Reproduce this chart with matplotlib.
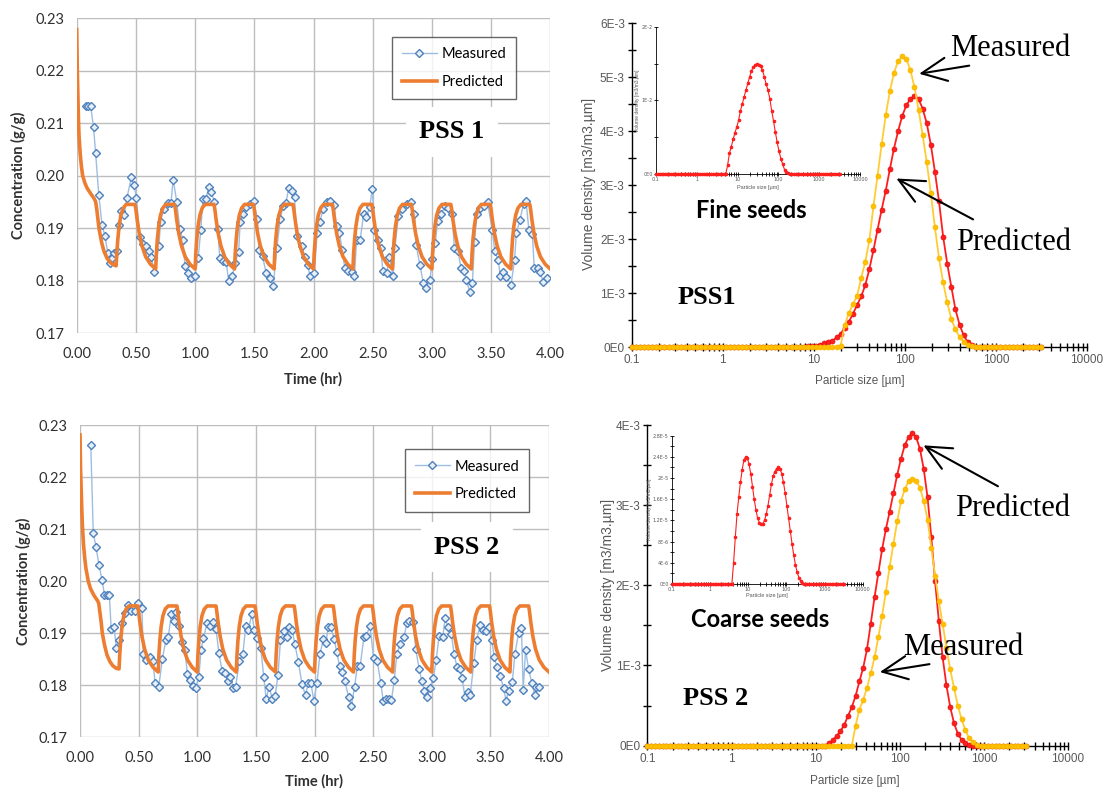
import matplotlib
matplotlib.use("Agg")
import matplotlib.pyplot as plt
from matplotlib.lines import Line2D
from matplotlib.patches import FancyArrowPatch
from matplotlib.ticker import FixedLocator, FixedFormatter, NullFormatter

# ---------------- concentration data (g/g vs hr) ----------------
time_ticks = [0.0, 0.5, 1.0, 1.5, 2.0, 2.5, 3.0, 3.5, 4.0]
conc_ticks = [0.17, 0.18, 0.19, 0.20, 0.21, 0.22, 0.23]

pred_time = [
    0.000, 0.005, 0.010, 0.015, 0.020, 0.030, 0.040, 0.050, 0.070, 0.090, 0.120,
    0.150, 0.160, 0.170, 0.180, 0.190, 0.210, 0.230, 0.255, 0.280, 0.310,
    0.333, 0.339, 0.347, 0.358, 0.373, 0.393, 0.418, 0.493, 0.500, 0.511, 0.528, 0.551, 0.583, 0.623,
    0.667, 0.673, 0.681, 0.692, 0.707, 0.727, 0.752, 0.827, 0.834, 0.845, 0.862, 0.885, 0.917, 0.957,
    1.000, 1.006, 1.014, 1.025, 1.040, 1.060, 1.085, 1.160, 1.167, 1.178, 1.195, 1.218, 1.250, 1.290,
    1.333, 1.339, 1.347, 1.358, 1.373, 1.393, 1.418, 1.493, 1.500, 1.511, 1.528, 1.551, 1.583, 1.623,
    1.667, 1.673, 1.681, 1.692, 1.707, 1.727, 1.752, 1.827, 1.834, 1.845, 1.862, 1.885, 1.917, 1.957,
    2.000, 2.006, 2.014, 2.025, 2.040, 2.060, 2.085, 2.160, 2.167, 2.178, 2.195, 2.218, 2.250, 2.290,
    2.333, 2.339, 2.347, 2.358, 2.373, 2.393, 2.418, 2.493, 2.500, 2.511, 2.528, 2.551, 2.583, 2.623,
    2.667, 2.673, 2.681, 2.692, 2.707, 2.727, 2.752, 2.827, 2.834, 2.845, 2.862, 2.885, 2.917, 2.957,
    3.000, 3.006, 3.014, 3.025, 3.040, 3.060, 3.085, 3.160, 3.167, 3.178, 3.195, 3.218, 3.250, 3.290,
    3.333, 3.339, 3.347, 3.358, 3.373, 3.393, 3.418, 3.493, 3.500, 3.511, 3.528, 3.551, 3.583, 3.623,
    3.667, 3.673, 3.681, 3.692, 3.707, 3.727, 3.752, 3.827, 3.834, 3.845, 3.862, 3.885, 3.917, 3.957,
    4.000,
]

pss1_pred = [
    0.2278, 0.2200, 0.2150, 0.2105, 0.2075, 0.2040, 0.2017, 0.2000, 0.1985, 0.1975, 0.1965,
    0.1955, 0.1950, 0.1935, 0.1915, 0.1897, 0.1873, 0.1856, 0.1843, 0.1835, 0.1830,
    0.1828, 0.1852, 0.1878, 0.1903, 0.1924, 0.1938, 0.1945, 0.1945, 0.1935, 0.1915, 0.1890, 0.1866, 0.1845, 0.1831,
    0.1822, 0.1852, 0.1878, 0.1903, 0.1924, 0.1938, 0.1945, 0.1945, 0.1935, 0.1915, 0.1890, 0.1866, 0.1845, 0.1831,
    0.1822, 0.1852, 0.1878, 0.1903, 0.1924, 0.1938, 0.1945, 0.1945, 0.1935, 0.1915, 0.1890, 0.1866, 0.1845, 0.1831,
    0.1822, 0.1852, 0.1878, 0.1903, 0.1924, 0.1938, 0.1945, 0.1945, 0.1935, 0.1915, 0.1890, 0.1866, 0.1845, 0.1831,
    0.1822, 0.1852, 0.1878, 0.1903, 0.1924, 0.1938, 0.1945, 0.1945, 0.1935, 0.1915, 0.1890, 0.1866, 0.1845, 0.1831,
    0.1822, 0.1852, 0.1878, 0.1903, 0.1924, 0.1938, 0.1945, 0.1945, 0.1935, 0.1915, 0.1890, 0.1866, 0.1845, 0.1831,
    0.1822, 0.1852, 0.1878, 0.1903, 0.1924, 0.1938, 0.1945, 0.1945, 0.1935, 0.1915, 0.1890, 0.1866, 0.1845, 0.1831,
    0.1822, 0.1852, 0.1878, 0.1903, 0.1924, 0.1938, 0.1945, 0.1945, 0.1935, 0.1915, 0.1890, 0.1866, 0.1845, 0.1831,
    0.1822, 0.1852, 0.1878, 0.1903, 0.1924, 0.1938, 0.1945, 0.1945, 0.1935, 0.1915, 0.1890, 0.1866, 0.1845, 0.1831,
    0.1822, 0.1852, 0.1878, 0.1903, 0.1924, 0.1938, 0.1945, 0.1945, 0.1935, 0.1915, 0.1890, 0.1866, 0.1845, 0.1831,
    0.1822, 0.1852, 0.1878, 0.1903, 0.1924, 0.1938, 0.1945, 0.1945, 0.1935, 0.1915, 0.1890, 0.1866, 0.1845, 0.1831,
    0.1822,
]

pss2_pred = [
    0.2281, 0.2215, 0.2175, 0.2140, 0.2110, 0.2070, 0.2045, 0.2025, 0.2000, 0.1985, 0.1972,
    0.1962, 0.1957, 0.1940, 0.1922, 0.1900, 0.1876, 0.1858, 0.1845, 0.1837, 0.1832,
    0.1831, 0.1858, 0.1886, 0.1912, 0.1933, 0.1946, 0.1952, 0.1952, 0.1941, 0.1920, 0.1894, 0.1869, 0.1848, 0.1834,
    0.1825, 0.1858, 0.1886, 0.1912, 0.1933, 0.1946, 0.1952, 0.1952, 0.1941, 0.1920, 0.1894, 0.1869, 0.1848, 0.1834,
    0.1825, 0.1858, 0.1886, 0.1912, 0.1933, 0.1946, 0.1952, 0.1952, 0.1941, 0.1920, 0.1894, 0.1869, 0.1848, 0.1834,
    0.1825, 0.1858, 0.1886, 0.1912, 0.1933, 0.1946, 0.1952, 0.1952, 0.1941, 0.1920, 0.1894, 0.1869, 0.1848, 0.1834,
    0.1825, 0.1858, 0.1886, 0.1912, 0.1933, 0.1946, 0.1952, 0.1952, 0.1941, 0.1920, 0.1894, 0.1869, 0.1848, 0.1834,
    0.1825, 0.1858, 0.1886, 0.1912, 0.1933, 0.1946, 0.1952, 0.1952, 0.1941, 0.1920, 0.1894, 0.1869, 0.1848, 0.1834,
    0.1825, 0.1858, 0.1886, 0.1912, 0.1933, 0.1946, 0.1952, 0.1952, 0.1941, 0.1920, 0.1894, 0.1869, 0.1848, 0.1834,
    0.1825, 0.1858, 0.1886, 0.1912, 0.1933, 0.1946, 0.1952, 0.1952, 0.1941, 0.1920, 0.1894, 0.1869, 0.1848, 0.1834,
    0.1825, 0.1858, 0.1886, 0.1912, 0.1933, 0.1946, 0.1952, 0.1952, 0.1941, 0.1920, 0.1894, 0.1869, 0.1848, 0.1834,
    0.1825, 0.1858, 0.1886, 0.1912, 0.1933, 0.1946, 0.1952, 0.1952, 0.1941, 0.1920, 0.1894, 0.1869, 0.1848, 0.1834,
    0.1825, 0.1858, 0.1886, 0.1912, 0.1933, 0.1946, 0.1952, 0.1952, 0.1941, 0.1920, 0.1894, 0.1869, 0.1848, 0.1834,
    0.1825,
]

pss1_meas_time = [
    0.075, 0.098, 0.118, 0.142, 0.160, 0.187, 0.214, 0.238, 0.262, 0.281, 0.296, 0.317,
    0.340, 0.355, 0.377, 0.400, 0.425, 0.462, 0.483, 0.505, 0.532, 0.560, 0.589, 0.609,
    0.630, 0.655, 0.694, 0.709, 0.734, 0.770, 0.796, 0.815, 0.845, 0.870, 0.897, 0.915,
    0.936, 0.966, 0.996, 1.026, 1.048, 1.066, 1.090, 1.117, 1.138, 1.162, 1.192, 1.208,
    1.238, 1.262, 1.283, 1.313, 1.337, 1.368, 1.380, 1.404, 1.434, 1.464, 1.494, 1.525,
    1.540, 1.570, 1.600, 1.630, 1.660, 1.690, 1.720, 1.742, 1.768, 1.790, 1.820, 1.840,
    1.857, 1.900, 1.930, 1.953, 1.970, 2.008, 2.030, 2.053, 2.083, 2.113, 2.143, 2.174,
    2.195, 2.219, 2.243, 2.264, 2.294, 2.325, 2.346, 2.364, 2.394, 2.424, 2.445, 2.475,
    2.497, 2.515, 2.545, 2.566, 2.587, 2.617, 2.641, 2.672, 2.687, 2.717, 2.747, 2.786,
    2.823, 2.853, 2.868, 2.898, 2.928, 2.952, 2.983, 3.004, 3.028, 3.049, 3.080, 3.110,
    3.140, 3.170, 3.190, 3.220, 3.245, 3.270, 3.290, 3.320, 3.342, 3.360, 3.380, 3.410,
    3.440, 3.470, 3.510, 3.530, 3.560, 3.578, 3.600, 3.630, 3.668, 3.698, 3.713, 3.743,
    3.774, 3.795, 3.819, 3.849, 3.864, 3.894, 3.915, 3.940, 3.970,
]
pss1_meas = [
    0.2132, 0.2132, 0.2132, 0.2092, 0.2042, 0.1962, 0.1906, 0.1885, 0.1853, 0.1833, 0.1842, 0.1852,
    0.1856, 0.1905, 0.1932, 0.1925, 0.1958, 0.1997, 0.1982, 0.1957, 0.1882, 0.1870, 0.1866, 0.1856,
    0.1845, 0.1817, 0.1866, 0.1912, 0.1937, 0.1948, 0.1948, 0.1992, 0.1950, 0.1899, 0.1877, 0.1827,
    0.1814, 0.1805, 0.1809, 0.1843, 0.1896, 0.1956, 0.1955, 0.1978, 0.1968, 0.1950, 0.1898, 0.1843,
    0.1837, 0.1835, 0.1800, 0.1808, 0.1833, 0.1855, 0.1911, 0.1927, 0.1940, 0.1946, 0.1952, 0.1918,
    0.1858, 0.1846, 0.1814, 0.1805, 0.1789, 0.1861, 0.1918, 0.1941, 0.1948, 0.1976, 0.1970, 0.1959,
    0.1884, 0.1866, 0.1844, 0.1830, 0.1808, 0.1814, 0.1890, 0.1911, 0.1937, 0.1949, 0.1952, 0.1943,
    0.1903, 0.1890, 0.1858, 0.1824, 0.1818, 0.1816, 0.1808, 0.1877, 0.1877, 0.1927, 0.1921, 0.1940,
    0.1975, 0.1896, 0.1877, 0.1861, 0.1818, 0.1814, 0.1845, 0.1808, 0.1861, 0.1922, 0.1937, 0.1945,
    0.1949, 0.1927, 0.1867, 0.1830, 0.1795, 0.1786, 0.1801, 0.1841, 0.1871, 0.1913, 0.1927, 0.1941,
    0.1938, 0.1927, 0.1861, 0.1857, 0.1824, 0.1819, 0.1801, 0.1778, 0.1796, 0.1874, 0.1927, 0.1938,
    0.1941, 0.1949, 0.1896, 0.1857, 0.1839, 0.1808, 0.1816, 0.1807, 0.1791, 0.1839, 0.1890, 0.1915,
    0.1946, 0.1952, 0.1896, 0.1888, 0.1824, 0.1824, 0.1816, 0.1797, 0.1805,
]

pss2_meas_time = [
    0.092, 0.113, 0.137, 0.162, 0.189, 0.208, 0.229, 0.250, 0.266, 0.290, 0.311, 0.336,
    0.360, 0.382, 0.406, 0.437, 0.467, 0.498, 0.528, 0.540, 0.565, 0.595, 0.620, 0.641,
    0.672, 0.702, 0.733, 0.754, 0.779, 0.800, 0.818, 0.846, 0.870, 0.895, 0.916, 0.937,
    0.962, 0.986, 1.014, 1.032, 1.053, 1.084, 1.105, 1.136, 1.160, 1.185, 1.212, 1.237,
    1.258, 1.282, 1.307, 1.328, 1.359, 1.389, 1.414, 1.435, 1.466, 1.487, 1.512, 1.542,
    1.567, 1.588, 1.613, 1.640, 1.664, 1.689, 1.710, 1.740, 1.762, 1.786, 1.810, 1.832,
    1.863, 1.893, 1.924, 1.945, 1.969, 1.994, 2.021, 2.046, 2.076, 2.098, 2.116, 2.137,
    2.168, 2.189, 2.214, 2.235, 2.260, 2.290, 2.314, 2.342, 2.366, 2.390, 2.421, 2.443,
    2.473, 2.504, 2.534, 2.565, 2.586, 2.610, 2.635, 2.656, 2.681, 2.702, 2.733, 2.763,
    2.788, 2.809, 2.840, 2.864, 2.892, 2.916, 2.937, 2.962, 2.986, 3.014, 3.038, 3.063,
    3.093, 3.115, 3.136, 3.167, 3.191, 3.215, 3.237, 3.258, 3.283, 3.307, 3.328, 3.359,
    3.383, 3.411, 3.435, 3.460, 3.490, 3.512, 3.533, 3.557, 3.582, 3.612, 3.634, 3.655,
    3.686, 3.710, 3.740, 3.765, 3.780, 3.800, 3.826, 3.853, 3.878, 3.893, 3.918,
]
pss2_meas = [
    0.2261, 0.2093, 0.2065, 0.2030, 0.2001, 0.1974, 0.1974, 0.1974, 0.1908, 0.1911, 0.1871, 0.1887,
    0.1919, 0.1939, 0.1953, 0.1942, 0.1942, 0.1957, 0.1948, 0.1860, 0.1848, 0.1853, 0.1847, 0.1804,
    0.1797, 0.1850, 0.1887, 0.1893, 0.1937, 0.1924, 0.1940, 0.1914, 0.1882, 0.1867, 0.1821, 0.1810,
    0.1799, 0.1795, 0.1816, 0.1867, 0.1890, 0.1919, 0.1914, 0.1922, 0.1908, 0.1861, 0.1827, 0.1823,
    0.1807, 0.1816, 0.1795, 0.1797, 0.1847, 0.1859, 0.1914, 0.1905, 0.1937, 0.1905, 0.1890, 0.1871,
    0.1816, 0.1773, 0.1797, 0.1773, 0.1778, 0.1820, 0.1887, 0.1904, 0.1893, 0.1912, 0.1905, 0.1879,
    0.1844, 0.1802, 0.1780, 0.1804, 0.1804, 0.1770, 0.1804, 0.1859, 0.1889, 0.1880, 0.1912, 0.1911,
    0.1889, 0.1863, 0.1837, 0.1825, 0.1807, 0.1777, 0.1759, 0.1797, 0.1837, 0.1837, 0.1892, 0.1895,
    0.1914, 0.1852, 0.1847, 0.1804, 0.1770, 0.1773, 0.1773, 0.1771, 0.1810, 0.1860, 0.1879, 0.1892,
    0.1919, 0.1924, 0.1922, 0.1869, 0.1831, 0.1807, 0.1789, 0.1777, 0.1795, 0.1814, 0.1848, 0.1895,
    0.1892, 0.1929, 0.1911, 0.1898, 0.1860, 0.1834, 0.1831, 0.1814, 0.1777, 0.1786, 0.1780, 0.1843,
    0.1886, 0.1916, 0.1906, 0.1903, 0.1912, 0.1886, 0.1854, 0.1834, 0.1818, 0.1795, 0.1770, 0.1789,
    0.1805, 0.1860, 0.1900, 0.1910, 0.1791, 0.1867, 0.1831, 0.1804, 0.1780, 0.1796, 0.1796,
]

# ---------------- particle size distributions ----------------
size_um = [
    0.1, 0.1109, 0.1230, 0.1365, 0.1514, 0.1679, 0.1862, 0.2065, 0.2291, 0.2541,
    0.2818, 0.3126, 0.3467, 0.3846, 0.4266, 0.4732, 0.5248, 0.5821, 0.6457, 0.7161,
    0.7943, 0.8810, 0.9772, 1.084, 1.202, 1.334, 1.479, 1.641, 1.820, 2.018,
    2.239, 2.483, 2.754, 3.055, 3.388, 3.758, 4.169, 4.624, 5.129, 5.689,
    6.310, 6.998, 7.762, 8.610, 9.550, 10.59, 11.75, 13.03, 14.45, 16.03,
    17.78, 19.72, 21.88, 24.27, 26.92, 29.85, 33.11, 36.73, 40.74, 45.19,
    50.12, 55.59, 61.66, 68.39, 75.86, 84.14, 93.33, 103.5, 114.8, 127.4,
    141.3, 156.7, 173.8, 192.8, 213.8, 237.1, 263.0, 291.7, 323.6, 358.9,
    398.1, 441.6, 489.8, 543.3, 602.6, 668.3, 741.3, 822.2, 912.0, 1012,
    1122, 1245, 1380, 1531, 1698, 1884, 2089, 2317, 2570, 2851, 3162,
]
size_ticks = [0.1, 1, 10, 100, 1000, 10000]
size_tick_labels = ["0.1", "1", "10", "100", "1000", "10000"]

# volume density, in units of 1E-3 m3/m3.um
pss1_psd_measured = [0.0] * 51 + [
    0.03, 0.42, 0.63, 0.80, 0.95, 1.28, 1.58, 1.98, 2.62, 3.18, 3.76, 4.30, 4.74, 5.08,
    5.30, 5.39, 5.34, 5.14, 4.82, 4.40, 3.93, 3.43, 2.85, 2.22, 1.65, 1.20, 0.83, 0.52,
    0.33, 0.19, 0.10, 0.05, 0.02, 0.01,
] + [0.0] * 16
pss1_psd_predicted = [0.0] * 41 + [
    0.005, 0.01, 0.015, 0.02, 0.03, 0.05, 0.07, 0.09, 0.12, 0.18, 0.25, 0.36, 0.47, 0.62,
    0.78, 0.94, 1.15, 1.45, 1.80, 2.18, 2.55, 2.90, 3.30, 3.68, 4.00, 4.28, 4.48, 4.60,
    4.65, 4.60, 4.42, 4.15, 3.75, 3.25, 2.70, 2.05, 1.55, 1.12, 0.70, 0.42, 0.22, 0.10,
    0.04, 0.01,
] + [0.0] * 16
pss2_psd_measured = [0.0] * 55 + [
    0.25, 0.45, 0.57, 0.72, 0.90, 1.10, 1.35, 1.62, 1.92, 2.23, 2.52, 2.80, 3.05, 3.20,
    3.30, 3.33, 3.30, 3.22, 3.05, 2.82, 2.47, 2.12, 1.80, 1.52, 1.22, 0.95, 0.72, 0.50,
    0.33, 0.19, 0.09, 0.04, 0.01,
] + [0.0] * 13
pss2_psd_predicted = [0.0] * 48 + [
    0.03, 0.07, 0.12, 0.18, 0.26, 0.37, 0.48, 0.62, 0.80, 0.97, 1.20, 1.52, 1.85, 2.15,
    2.45, 2.70, 2.92, 3.15, 3.38, 3.58, 3.75, 3.85, 3.90, 3.85, 3.70, 3.45, 3.10, 2.60,
    2.05, 1.55, 1.10, 0.75, 0.48, 0.28, 0.15, 0.07, 0.03, 0.01,
] + [0.0] * 15

# seed distributions (insets)
fine_seed_psd = [0.0] * 39 + [   # units of 1E-2
    0.12, 0.28, 0.37, 0.47, 0.56, 0.64, 0.73, 0.86, 0.95, 1.05, 1.14, 1.23, 1.32, 1.40,
    1.45, 1.48, 1.49, 1.48, 1.46, 1.41, 1.32, 1.22, 1.14, 1.02, 0.86, 0.72, 0.57, 0.43,
    0.31, 0.21, 0.13, 0.06, 0.03, 0.015, 0.005,
] + [0.0] * 27
coarse_seed_psd = [0.0] * 36 + [   # units of 1E-6
    4.0, 8.8, 13.2, 16.4, 19.2, 21.6, 23.4, 24.0, 23.8, 22.6, 20.8, 18.4, 16.0, 14.0,
    12.4, 11.6, 11.3, 11.4, 12.0, 13.2, 14.8, 16.8, 18.8, 20.4, 21.2, 21.8, 22.0, 21.8,
    20.8, 19.2, 17.2, 14.8, 12.4, 10.0, 7.6, 5.4, 3.6, 2.2, 1.2, 0.6, 0.24, 0.08,
] + [0.0] * 23

# ---------------- styling ----------------
W, H = 1110, 794
ORANGE = "#ED7D31"
BLUE_LINE = "#9DBDE3"
BLUE_EDGE = "#4F81BD"
RED = "#FF1E1E"
GOLD = "#FFC000"
SANS = "Lato"
SERIF = "Liberation Serif"
GREY = "#595959"

fig = plt.figure(figsize=(W / 100, H / 100), dpi=100)


def box(l, t, r, b):
    return [l / W, 1 - b / H, (r - l) / W, (b - t) / H]


def fpt(x, y):
    return (x / W, 1 - y / H)


def ftext(x, y, s, **kw):
    fig.text(x / W, 1 - y / H, s, ha="center", va="center", **kw)


def arrow(tail, head):
    fig.add_artist(FancyArrowPatch(fpt(*tail), fpt(*head), transform=fig.transFigure,
                                   arrowstyle="->,head_length=0.9,head_width=0.42",
                                   mutation_scale=20, lw=1.5, color="black"))


def conc_panel(rect, meas_t, meas_v, pred_v, tag, tag_xy, leg_xy, xlabel_xy, ylabel_xy):
    ax = fig.add_axes(rect)
    ax.plot(meas_t, meas_v, color=BLUE_LINE, lw=1.0, marker="D", ms=4.3,
            mfc="#E6EEF8", mec=BLUE_EDGE, mew=1.0, zorder=3)
    ax.plot(pred_time, pred_v, color=ORANGE, lw=2.6, zorder=4)
    ax.set_xlim(0, 4)
    ax.set_ylim(0.17, 0.23)
    ax.set_xticks(time_ticks)
    ax.set_yticks(conc_ticks)
    ax.set_xticklabels([f"{t:.2f}" for t in time_ticks])
    ax.set_yticklabels([f"{c:.2f}" for c in conc_ticks])
    ax.grid(True, color="#BDBDBD", lw=1.0)
    ax.set_axisbelow(True)
    for s in ax.spines.values():
        s.set_visible(False)
    ax.tick_params(length=0, labelsize=10.5, colors="#303030")
    ax.tick_params(axis="x", pad=10)
    ax.tick_params(axis="y", pad=9)
    for lab in ax.get_xticklabels() + ax.get_yticklabels():
        lab.set_family(SANS)
    handles = [
        Line2D([], [], color=BLUE_LINE, lw=1.0, marker="D", ms=4.3, mfc="#E6EEF8",
               mec=BLUE_EDGE, mew=1.0),
        Line2D([], [], color=ORANGE, lw=2.6),
    ]
    leg = ax.legend(handles, ["Measured", "Predicted"], loc="upper left",
                    bbox_to_anchor=leg_xy, frameon=True, fancybox=False,
                    prop={"family": SANS, "size": 10.5}, handlelength=2.4,
                    labelspacing=0.95, borderpad=0.7, handletextpad=0.3,
                    borderaxespad=0)
    leg.get_frame().set_edgecolor("#404040")
    leg.get_frame().set_linewidth(1.0)
    ftext(*tag_xy, tag, family=SERIF, weight="bold", fontsize=19,
          bbox=dict(facecolor="white", edgecolor="none", boxstyle="square,pad=0.5"))
    ftext(*xlabel_xy, "Time (hr)", family=SANS, weight="bold", fontsize=10.5, color="#303030")
    ftext(*ylabel_xy, "Concentration (g/g)", family=SANS, weight="bold", fontsize=10.5,
          color="#303030", rotation=90)
    return ax


def style_psd_axes(ax, ymax, ymajor, ylabels, yminor, tick_fs, lw, tlen):
    ax.set_xscale("log")
    ax.set_xlim(0.1, 10000)
    ax.set_ylim(0, ymax)
    ax.set_facecolor("none")
    ax.spines["top"].set_visible(False)
    ax.spines["right"].set_visible(False)
    for s in ("left", "bottom"):
        ax.spines[s].set_linewidth(lw)
    ax.xaxis.set_major_locator(FixedLocator(size_ticks))
    ax.xaxis.set_major_formatter(FixedFormatter(size_tick_labels))
    minors = [m * d for d in size_ticks[:-1] for m in range(2, 10)]
    ax.xaxis.set_minor_locator(FixedLocator(minors))
    ax.xaxis.set_minor_formatter(NullFormatter())
    ax.yaxis.set_major_locator(FixedLocator(ymajor))
    ax.yaxis.set_major_formatter(FixedFormatter(ylabels))
    ax.yaxis.set_minor_locator(FixedLocator(yminor))
    ax.tick_params(which="both", direction="inout", length=tlen, width=lw,
                   labelsize=tick_fs, labelcolor=GREY, pad=2)


def psd_panel(rect, ymax, ymajor, ylabels, yminor, red_v, gold_v, xlabel_xy, ylabel_xy):
    ax = fig.add_axes(rect)
    ax.plot(size_um, red_v, color=RED, lw=1.3, marker="o", ms=3.6, mfc=RED,
            mec="#E01010", mew=0.5, zorder=3, clip_on=False)
    ax.plot(size_um, gold_v, color="#FFCC33", lw=1.3, marker="o", ms=3.6, mfc=GOLD,
            mec="#F5B400", mew=0.5, zorder=4, clip_on=False)
    style_psd_axes(ax, ymax, ymajor, ylabels, yminor, 8.5, 1.0, 6)
    for lab in ax.get_xticklabels() + ax.get_yticklabels():
        lab.set_family("Liberation Sans")
    ftext(*xlabel_xy, "Particle size [µm]", family="Liberation Sans", fontsize=8.5, color=GREY)
    ftext(*ylabel_xy, "Volume density [m3/m3.µm]", family="Liberation Sans", fontsize=10,
          color=GREY, rotation=90)
    return ax


def seed_inset(rect, values, ymax, ymajor, ylabels, yminor, label_x, xlabel_y):
    ax = fig.add_axes(rect)
    ax.plot(size_um, values, color=RED, lw=0.8, marker="o", ms=1.6, mfc=RED,
            mec=RED, zorder=3, clip_on=False)
    style_psd_axes(ax, ymax, ymajor, ylabels, yminor, 3.5, 0.6, 2.5)
    ax.tick_params(pad=1)
    ftext((rect[0] + rect[2] / 2) * W, xlabel_y, "Particle size [µm]",
          family="Liberation Sans", fontsize=4, color=GREY)
    ftext(label_x, (1 - rect[1] - rect[3] / 2) * H, "Volume density [m3/m3.µm]",
          family="Liberation Sans", fontsize=3.6, color=GREY, rotation=90)
    return ax


# ---------------- panels ----------------
conc_panel(box(76.7, 18, 550.3, 333), pss1_meas_time, pss1_meas, pss1_pred,
           "PSS 1", (452, 132), (0.665, 0.9406), (312.5, 379), (18.6, 175))
conc_panel(box(80, 425, 549, 737), pss2_meas_time, pss2_meas, pss2_pred,
           "PSS 2", (467, 547), (0.692, 0.922), (314, 781.7), (23.2, 581.7))

psd_panel(box(631.7, 23.4, 1087, 347.2), 6.0,
          [0, 1, 2, 3, 4, 5, 6], ["0E0", "1E-3", "2E-3", "3E-3", "4E-3", "5E-3", "6E-3"],
          [0.5, 1.5, 2.5, 3.5, 4.5, 5.5],
          pss1_psd_predicted, pss1_psd_measured, (860, 381.3), (589.3, 184))
psd_panel(box(647.4, 425, 1068, 745.6), 4.0,
          [0, 1, 2, 3, 4], ["0E0", "1E-3", "2E-3", "3E-3", "4E-3"],
          [0.5, 1.5, 2.5, 3.5],
          pss2_psd_predicted, pss2_psd_measured, (855.2, 780.7), (607.9, 585))

seed_inset(box(656, 26.7, 860, 174), fine_seed_psd, 2.0,
           [0, 1, 2], ["0E0", "1E-2", "2E-2"], [0.5, 1.5], 637, 187)
seed_inset(box(671.7, 435.7, 862.7, 584), coarse_seed_psd, 28.0,
           [0, 4, 8, 12, 16, 20, 24, 28],
           ["0E0", "4E-6", "8E-6", "1.2E-5", "1.6E-5", "2E-5", "2.4E-5", "2.8E-5"],
           [2, 6, 10, 14, 18, 22, 26], 650, 596)

# ---------------- annotations ----------------
ftext(706.4, 297.6, "PSS1", family=SERIF, weight="bold", fontsize=19)
ftext(751.5, 210, "Fine seeds", family=SANS, weight="bold", fontsize=17)
ftext(1010, 48.5, "Measured", family=SERIF, fontsize=22)
ftext(1013.6, 242.5, "Predicted", family=SERIF, fontsize=22)
arrow((972, 65.2), (916.4, 74.2))
arrow((975.5, 220.7), (893.9, 177.2))

ftext(716, 698.1, "PSS 2", family=SERIF, weight="bold", fontsize=19)
ftext(760.6, 619.4, "Coarse seeds", family=SANS, weight="bold", fontsize=17)
ftext(1012.3, 508.6, "Predicted", family=SERIF, fontsize=22)
ftext(963.3, 647.3, "Measured", family=SERIF, fontsize=22)
arrow((1000.4, 487.6), (921, 444))
arrow((932.2, 663.7), (877.1, 672.5))

fig.savefig("out.png", dpi=100, facecolor="white")
